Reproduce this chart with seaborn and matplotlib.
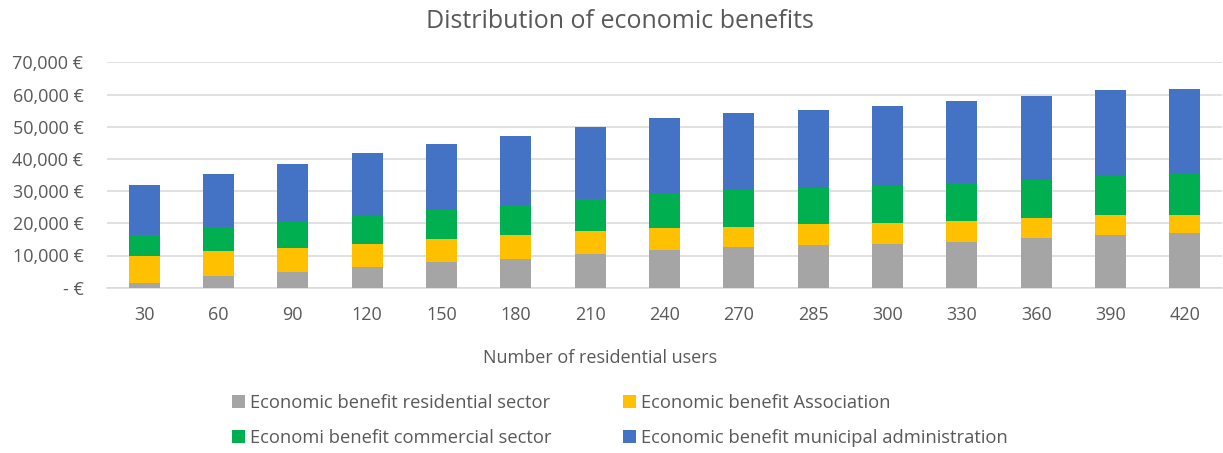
import matplotlib
matplotlib.use("Agg")
import matplotlib.pyplot as plt
from matplotlib.ticker import FuncFormatter, MultipleLocator
from matplotlib.patches import Patch
import numpy as np
import pandas as pd
import seaborn as sns

# Number of residential users (categories)
users = ["30", "60", "90", "120", "150", "180", "210", "240", "270", "285",
         "300", "330", "360", "390", "420"]

# Economic benefit per stakeholder (EUR)
residential = [1400, 3600, 4800, 6300, 8000, 9000, 10600, 11700, 12500, 13200,
               13600, 14300, 15400, 16300, 17000]
association = [8350, 7700, 7600, 7300, 7100, 7300, 6900, 6900, 6450, 6600,
               6500, 6500, 6150, 6200, 5500]
commercial = [6550, 7650, 8000, 8750, 9100, 9500, 9950, 10700, 11300, 11150,
              11600, 11700, 12000, 12300, 12700]
municipal = [15600, 16350, 18000, 19400, 20350, 21400, 22450, 23300, 23900, 24350,
             24750, 25400, 25900, 26600, 26600]

series_names = ["Economic benefit residential sector",
                "Economic benefit Association",
                "Economi benefit commercial sector",
                "Economic benefit municipal administration"]
series_values = [residential, association, commercial, municipal]
colors = ["#A5A5A5", "#FFC000", "#00B050", "#4472C4"]

text_color = "#595959"
grid_color = "#D9D9D9"
font = "Open Sans"

sns.set_theme(style="white")
plt.rcParams["font.family"] = [font, "DejaVu Sans"]

W, H = 1223, 453
fig = plt.figure(figsize=(W / 100, H / 100), dpi=100)
ax = fig.add_axes([107 / W, (H - 287.7) / H, (1222 - 107) / W, (287.7 - 62.3) / H])

bottom = np.zeros(len(users))
for name, vals, col in zip(series_names, series_values, colors):
    df = pd.DataFrame({"users": users, "value": vals})
    sns.barplot(data=df, x="users", y="value", order=users, color=col,
                bottom=bottom.copy(), width=0.42, saturation=1, ax=ax,
                edgecolor="none", linewidth=0, zorder=3)
    bottom += np.array(vals)

ax.set_ylim(0, 70000)
ax.set_xlim(-0.5, len(users) - 0.5)
ax.yaxis.set_major_locator(MultipleLocator(10000))
ax.yaxis.set_major_formatter(FuncFormatter(
    lambda v, p: "- €" if v == 0 else f"{v:,.0f} €"))
ax.grid(axis="y", color=grid_color, linewidth=1.1, zorder=0)
ax.set_axisbelow(True)
for side in ["top", "right", "left"]:
    ax.spines[side].set_visible(False)
ax.spines["bottom"].set_color(grid_color)
ax.spines["bottom"].set_linewidth(1.1)
ax.tick_params(axis="both", length=0, colors=text_color, labelsize=13)
ax.tick_params(axis="x", pad=13)
ax.tick_params(axis="y", pad=17)
ax.set_ylabel("")
ax.set_xlabel("")

fig.text(600 / W, 1 - 358 / H, "Number of residential users", ha="center", va="center",
         color=text_color, fontsize=13)
fig.text(620 / W, 1 - 21 / H, "Distribution of economic benefits", ha="center", va="center",
         color=text_color, fontsize=18)

# Legend laid out row-wise: residential, association / commercial, municipal
handles = [Patch(facecolor=c, edgecolor="none") for c in colors]
order = [0, 2, 1, 3]
fig.legend([handles[i] for i in order], [series_names[i] for i in order],
           ncol=2, loc="center", bbox_to_anchor=(620 / W, 1 - 420.5 / H),
           frameon=False, fontsize=13.2, labelcolor=text_color,
           handlelength=0.7, handleheight=0.7, handletextpad=0.3,
           columnspacing=3.9, labelspacing=0.9, borderpad=0, borderaxespad=0)

fig.savefig("out.png", dpi=100)
